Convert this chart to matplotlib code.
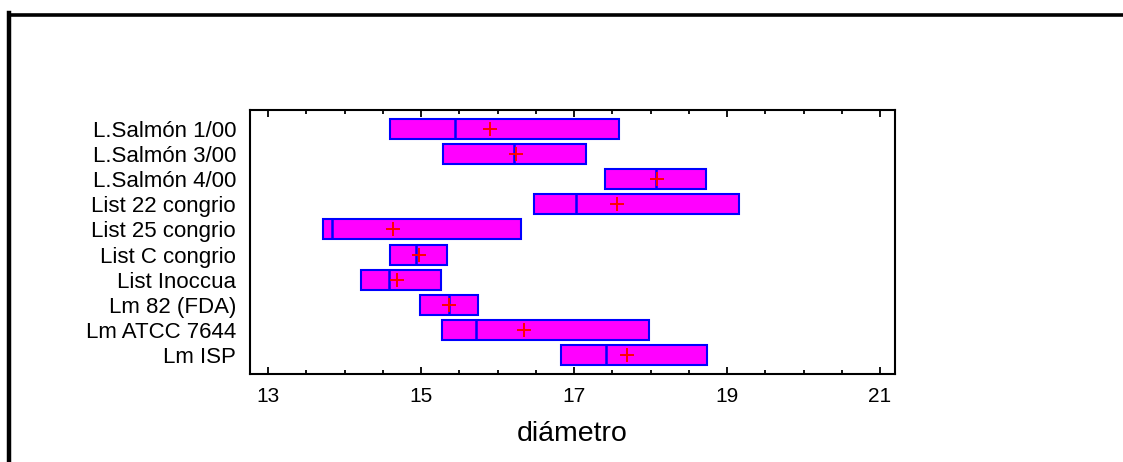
import matplotlib
matplotlib.use("Agg")
import matplotlib.pyplot as plt
from matplotlib.lines import Line2D
import numpy as np

labels = ["L.Salmón 1/00", "L.Salmón 3/00", "L.Salmón 4/00", "List 22 congrio",
          "List 25 congrio", "List C congrio", "List Inoccua", "Lm 82 (FDA)",
          "Lm ATCC 7644", "Lm ISP"]
q1 = [14.60, 15.29, 17.41, 16.48, 13.72, 14.60, 14.22, 14.98, 15.27, 16.83]
medians = [15.45, 16.22, 18.07, 17.03, 13.84, 14.94, 14.58, 15.37, 15.72, 17.42]
means = [15.90, 16.24, 18.08, 17.56, 14.63, 14.97, 14.69, 15.37, 16.34, 17.69]
q3 = [17.59, 17.16, 18.72, 19.16, 16.31, 15.34, 15.26, 15.75, 17.98, 18.74]
xticks = [13, 15, 17, 19, 21]

plt.rcParams['font.family'] = ['Liberation Sans', 'DejaVu Sans']

W, H = 1123, 462
fig = plt.figure(figsize=(W / 100, H / 100), dpi=100)
ax = fig.add_axes([250 / W, 1 - 374 / H, 645 / W, 264 / H])

pos = np.arange(len(labels))
q1a = np.array(q1)
q3a = np.array(q3)
bh = 0.8
ax.barh(pos, q3a - q1a, left=q1a, height=bh, color='#FF00FF',
        edgecolor='#0000FF', linewidth=1.5, zorder=2)
ax.vlines(medians, pos - bh / 2, pos + bh / 2, color='#0000FF', linewidth=1.8, zorder=3)
ax.plot(means, pos, linestyle='none', marker='+', color='#FF0000',
        markersize=9.5, markeredgewidth=1.4, zorder=4)

ax.set_xlim(12.764, 21.196)
ax.set_ylim(len(labels) - 1 + 0.757, -0.757)
ax.set_xticks(xticks)
ax.set_xticklabels([str(t) for t in xticks], fontsize=15)
ax.set_xticks(np.arange(13.5, 21, 0.5), minor=True)
ax.set_yticks(pos)
ax.set_yticklabels(labels, fontsize=16)
ax.tick_params(axis='x', which='both', direction='in', top=True, bottom=True,
               width=1.3, colors='black')
ax.tick_params(axis='x', which='major', length=5, pad=9)
ax.tick_params(axis='x', which='minor', length=3)
ax.tick_params(axis='y', which='both', length=0, pad=10)
for s in ax.spines.values():
    s.set_linewidth(1.5)
    s.set_color('black')

ax.set_xlabel('diámetro', fontsize=20.5, labelpad=11)

# outer frame (left and top edges)
fig.add_artist(Line2D([9 / W, 9 / W], [0, 1 - 13 / H], transform=fig.transFigure,
                      color='black', linewidth=3.2, solid_capstyle='projecting'))
fig.add_artist(Line2D([9 / W, 1], [1 - 15 / H, 1 - 15 / H], transform=fig.transFigure,
                      color='black', linewidth=2.6, solid_capstyle='butt'))

fig.savefig('out.png', dpi=100)
